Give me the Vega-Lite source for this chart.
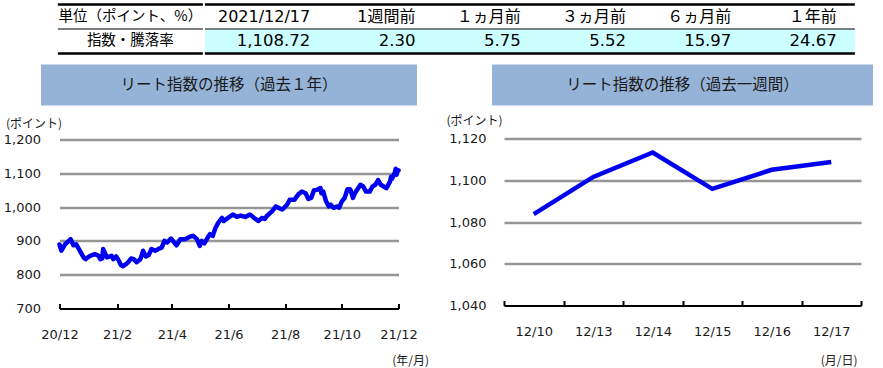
{
  "$schema": "https://vega.github.io/schema/vega-lite/v6.json",
  "padding": {"left": 3, "top": 2.5, "right": 0, "bottom": 0},
  "background": "white",
  "config": {
    "view": {"stroke": null},
    "axis": {"labelFont": "DejaVu Sans", "labelFontSize": 13, "labelColor": "#1a1a1a", "titleFont": "Noto Sans CJK JP", "titleFontSize": 12, "titleFontWeight": "normal", "titleColor": "#1a1a1a"}
  },
  "datasets": {
    "cells": [
      {"row": "header", "col": "c0", "text": "単位（ポイント、%）"},
      {"row": "header", "col": "c1", "text": "2021/12/17"},
      {"row": "header", "col": "c2", "text": "1週間前"},
      {"row": "header", "col": "c3", "text": "１ヵ月前"},
      {"row": "header", "col": "c4", "text": "３ヵ月前"},
      {"row": "header", "col": "c5", "text": "６ヵ月前"},
      {"row": "header", "col": "c6", "text": "１年前"},
      {"row": "data", "col": "c0", "text": "指数・騰落率"},
      {"row": "data", "col": "c1", "text": "1,108.72"},
      {"row": "data", "col": "c2", "text": "2.30"},
      {"row": "data", "col": "c3", "text": "5.75"},
      {"row": "data", "col": "c4", "text": "5.52"},
      {"row": "data", "col": "c5", "text": "15.97"},
      {"row": "data", "col": "c6", "text": "24.67"}
    ],
    "rows": [{"row": "header"}, {"row": "data"}],
    "year": [
      {"date": "2020-12-17", "value": 889.3},
      {"date": "2020-12-19", "value": 871},
      {"date": "2020-12-23", "value": 890},
      {"date": "2020-12-25", "value": 895},
      {"date": "2020-12-29", "value": 905},
      {"date": "2021-01-01", "value": 887},
      {"date": "2021-01-04", "value": 890},
      {"date": "2021-01-12", "value": 851},
      {"date": "2021-01-14", "value": 846},
      {"date": "2021-01-19", "value": 856},
      {"date": "2021-01-24", "value": 861},
      {"date": "2021-01-28", "value": 856},
      {"date": "2021-01-30", "value": 846},
      {"date": "2021-02-01", "value": 848},
      {"date": "2021-02-02", "value": 876},
      {"date": "2021-02-06", "value": 851},
      {"date": "2021-02-11", "value": 856},
      {"date": "2021-02-13", "value": 846},
      {"date": "2021-02-16", "value": 854},
      {"date": "2021-02-19", "value": 841},
      {"date": "2021-02-21", "value": 829},
      {"date": "2021-02-23", "value": 825},
      {"date": "2021-02-27", "value": 832},
      {"date": "2021-03-01", "value": 837},
      {"date": "2021-03-04", "value": 848},
      {"date": "2021-03-07", "value": 846},
      {"date": "2021-03-10", "value": 837},
      {"date": "2021-03-14", "value": 846},
      {"date": "2021-03-16", "value": 861},
      {"date": "2021-03-17", "value": 871},
      {"date": "2021-03-20", "value": 854},
      {"date": "2021-03-23", "value": 858},
      {"date": "2021-03-26", "value": 876},
      {"date": "2021-03-30", "value": 871},
      {"date": "2021-04-04", "value": 878},
      {"date": "2021-04-06", "value": 880},
      {"date": "2021-04-09", "value": 900},
      {"date": "2021-04-12", "value": 895},
      {"date": "2021-04-16", "value": 907},
      {"date": "2021-04-19", "value": 897},
      {"date": "2021-04-22", "value": 887},
      {"date": "2021-04-26", "value": 905},
      {"date": "2021-05-01", "value": 905},
      {"date": "2021-05-07", "value": 913},
      {"date": "2021-05-10", "value": 915},
      {"date": "2021-05-14", "value": 905},
      {"date": "2021-05-17", "value": 885},
      {"date": "2021-05-19", "value": 900},
      {"date": "2021-05-22", "value": 893},
      {"date": "2021-05-25", "value": 907},
      {"date": "2021-05-28", "value": 920},
      {"date": "2021-05-31", "value": 915},
      {"date": "2021-06-03", "value": 939},
      {"date": "2021-06-06", "value": 954},
      {"date": "2021-06-10", "value": 968},
      {"date": "2021-06-12", "value": 959},
      {"date": "2021-06-15", "value": 965},
      {"date": "2021-06-19", "value": 973},
      {"date": "2021-06-22", "value": 978},
      {"date": "2021-06-26", "value": 971},
      {"date": "2021-06-30", "value": 975},
      {"date": "2021-07-05", "value": 971},
      {"date": "2021-07-10", "value": 978},
      {"date": "2021-07-16", "value": 965},
      {"date": "2021-07-19", "value": 959},
      {"date": "2021-07-23", "value": 968},
      {"date": "2021-07-26", "value": 965},
      {"date": "2021-07-28", "value": 973},
      {"date": "2021-08-03", "value": 988},
      {"date": "2021-08-07", "value": 1002},
      {"date": "2021-08-12", "value": 995},
      {"date": "2021-08-14", "value": 993},
      {"date": "2021-08-19", "value": 1007},
      {"date": "2021-08-22", "value": 1022},
      {"date": "2021-08-27", "value": 1022},
      {"date": "2021-08-31", "value": 1037},
      {"date": "2021-09-04", "value": 1046},
      {"date": "2021-09-08", "value": 1041},
      {"date": "2021-09-11", "value": 1024},
      {"date": "2021-09-14", "value": 1027},
      {"date": "2021-09-17", "value": 1050},
      {"date": "2021-09-20", "value": 1051},
      {"date": "2021-09-24", "value": 1056},
      {"date": "2021-09-25", "value": 1041},
      {"date": "2021-09-27", "value": 1046},
      {"date": "2021-09-30", "value": 1017},
      {"date": "2021-10-03", "value": 1002},
      {"date": "2021-10-05", "value": 1007},
      {"date": "2021-10-08", "value": 998},
      {"date": "2021-10-12", "value": 1002},
      {"date": "2021-10-14", "value": 998},
      {"date": "2021-10-17", "value": 1017},
      {"date": "2021-10-20", "value": 1027},
      {"date": "2021-10-23", "value": 1053},
      {"date": "2021-10-26", "value": 1053},
      {"date": "2021-10-29", "value": 1027},
      {"date": "2021-10-31", "value": 1041},
      {"date": "2021-11-06", "value": 1066},
      {"date": "2021-11-09", "value": 1061},
      {"date": "2021-11-12", "value": 1046},
      {"date": "2021-11-16", "value": 1046},
      {"date": "2021-11-19", "value": 1061},
      {"date": "2021-11-22", "value": 1066},
      {"date": "2021-11-25", "value": 1080},
      {"date": "2021-11-28", "value": 1066},
      {"date": "2021-12-01", "value": 1061},
      {"date": "2021-12-04", "value": 1056},
      {"date": "2021-12-08", "value": 1076},
      {"date": "2021-12-09", "value": 1090},
      {"date": "2021-12-10", "value": 1083.8},
      {"date": "2021-12-13", "value": 1101.6},
      {"date": "2021-12-14", "value": 1113.3},
      {"date": "2021-12-15", "value": 1095.9},
      {"date": "2021-12-16", "value": 1105.0},
      {"date": "2021-12-17", "value": 1108.72}
    ],
    "week": [
      {"day": "12/10", "value": 1083.8},
      {"day": "12/13", "value": 1101.6},
      {"day": "12/14", "value": 1113.3},
      {"day": "12/15", "value": 1095.9},
      {"day": "12/16", "value": 1105.0},
      {"day": "12/17", "value": 1108.72}
    ]
  },
  "center": true,
  "spacing": 9,
  "vconcat": [
    {
      "spacing": -6,
      "hconcat": [
        {
          "width": 145,
          "height": 49,
          "layer": [
            {
              "data": {"name": "cells"},
              "transform": [{"filter": "datum.col === 'c0'"}],
              "mark": {"type": "text", "font": "Noto Sans CJK JP", "fontSize": 14.5, "color": "#000", "align": "center", "baseline": "middle"},
              "encoding": {
                "y": {"field": "row", "type": "nominal", "scale": {"domain": ["header", "data"], "paddingInner": 0, "paddingOuter": 0}, "axis": null},
                "text": {"field": "text"}
              }
            },
            {
              "data": {"name": "rows"},
              "transform": [{"filter": "datum.row === 'header'"}],
              "mark": {"type": "rule", "color": "#000", "strokeWidth": 2.5},
              "encoding": {
                "y": {"field": "row", "type": "nominal", "bandPosition": 0, "axis": null}
              }
            },
            {
              "data": {"name": "rows"},
              "transform": [{"filter": "datum.row === 'data'"}],
              "mark": {"type": "rule", "color": "#000", "strokeWidth": 1.2},
              "encoding": {
                "y": {"field": "row", "type": "nominal", "bandPosition": 0, "axis": null}
              }
            },
            {
              "data": {"name": "rows"},
              "transform": [{"filter": "datum.row === 'data'"}],
              "mark": {"type": "rule", "color": "#000", "strokeWidth": 2.5},
              "encoding": {
                "y": {"field": "row", "type": "nominal", "bandPosition": 1, "axis": null}
              }
            }
          ]
        },
        {
          "width": 650,
          "height": 49,
          "layer": [
            {
              "data": {"name": "rows"},
              "transform": [{"filter": "datum.row === 'data'"}],
              "mark": {"type": "rect", "color": "#CCFFFF"},
              "encoding": {
                "y": {"field": "row", "type": "nominal", "scale": {"domain": ["header", "data"], "paddingInner": 0, "paddingOuter": 0}, "axis": null}
              }
            },
            {
              "data": {"name": "cells"},
              "transform": [{"filter": "datum.row === 'header' && datum.col !== 'c0'"}],
              "mark": {"type": "text", "font": "DejaVu Sans, Noto Sans CJK JP", "fontSize": 16, "color": "#000", "align": "right", "baseline": "middle"},
              "encoding": {
                "x": {"field": "col", "type": "nominal", "bandPosition": 1, "scale": {"type": "band", "paddingInner": 0, "paddingOuter": 0.0864, "align": 0}, "axis": null},
                "y": {"field": "row", "type": "nominal", "axis": null},
                "text": {"field": "text"}
              }
            },
            {
              "data": {"name": "cells"},
              "transform": [{"filter": "datum.row === 'data' && datum.col !== 'c0'"}],
              "mark": {"type": "text", "font": "DejaVu Sans", "fontSize": 16.5, "color": "#000", "align": "right", "baseline": "middle"},
              "encoding": {
                "x": {"field": "col", "type": "nominal", "bandPosition": 1, "axis": null},
                "y": {"field": "row", "type": "nominal", "axis": null},
                "text": {"field": "text"}
              }
            },
            {
              "data": {"name": "rows"},
              "transform": [{"filter": "datum.row === 'header'"}],
              "mark": {"type": "rule", "color": "#000", "strokeWidth": 2.5},
              "encoding": {
                "y": {"field": "row", "type": "nominal", "bandPosition": 0, "axis": null}
              }
            },
            {
              "data": {"name": "rows"},
              "transform": [{"filter": "datum.row === 'data'"}],
              "mark": {"type": "rule", "color": "#000", "strokeWidth": 1.2},
              "encoding": {
                "y": {"field": "row", "type": "nominal", "bandPosition": 0, "axis": null}
              }
            },
            {
              "data": {"name": "rows"},
              "transform": [{"filter": "datum.row === 'data'"}],
              "mark": {"type": "rule", "color": "#000", "strokeWidth": 2.5},
              "encoding": {
                "y": {"field": "row", "type": "nominal", "bandPosition": 1, "axis": null}
              }
            }
          ]
        }
      ]
    },
    {
      "spacing": 16,
      "hconcat": [
        {
          "vconcat": [
            {
              "width": 376,
              "height": 41,
              "view": {"fill": "#95B3D7", "stroke": null},
              "data": {"values": [{"t": "リート指数の推移（過去１年）"}]},
              "mark": {"type": "text", "font": "Noto Sans CJK JP", "fontSize": 15.5, "color": "#1a1a1a", "baseline": "middle", "align": "center"},
              "encoding": {"text": {"field": "t"}}
            },
            {
              "width": 339,
              "height": 169,
              "data": {"name": "year"},
              "mark": {"type": "line", "color": "#0000F0", "strokeWidth": 4.5, "strokeJoin": "round", "strokeCap": "round"},
              "encoding": {
                "x": {
                  "field": "date", "type": "temporal",
                  "scale": {"type": "utc", "domain": [{"year": 2020, "month": 12, "date": 17, "utc": true}, {"year": 2021, "month": 12, "date": 17, "utc": true}]},
                  "axis": {
                    "title": "(年/月)",
                    "values": [
                      {"year": 2020, "month": 12, "date": 17, "utc": true},
                      {"year": 2021, "month": 2, "date": 17, "utc": true},
                      {"year": 2021, "month": 4, "date": 17, "utc": true},
                      {"year": 2021, "month": 6, "date": 17, "utc": true},
                      {"year": 2021, "month": 8, "date": 17, "utc": true},
                      {"year": 2021, "month": 10, "date": 17, "utc": true},
                      {"year": 2021, "month": 12, "date": 17, "utc": true}
                    ],
                    "labelExpr": "utcFormat(datum.value, '%y/%-m')",
                    "grid": false, "domainColor": "#000", "domainWidth": 2,
                    "ticks": true, "tickColor": "#000", "tickWidth": 2, "tickSize": -5,
                    "labelPadding": 25, "labelFlush": false, "labelOverlap": false,
                    "titleX": 369, "titleY": 52, "titleAlign": "right", "titleBaseline": "middle", "titleAnchor": null
                  }
                },
                "y": {
                  "field": "value", "type": "quantitative",
                  "scale": {"domain": [700, 1200], "nice": false, "zero": false},
                  "axis": {
                    "title": "(ポイント)", "values": [700, 800, 900, 1000, 1100, 1200], "format": ",d",
                    "ticks": false, "domain": false, "grid": true,
                    "gridColor": {"condition": {"test": "datum.value === 700", "value": "transparent"}, "value": "#969696"},
                    "gridWidth": 2.5, "labelPadding": 19,
                    "titleAngle": 0, "titleX": -26, "titleY": -16, "titleAlign": "center", "titleBaseline": "middle", "titleAnchor": null
                  }
                }
              }
            }
          ],
          "spacing": 34,
          "center": true,
          "bounds": "flush"
        },
        {
          "vconcat": [
            {
              "width": 381,
              "height": 41,
              "view": {"fill": "#95B3D7", "stroke": null},
              "data": {"values": [{"t": "リート指数の推移（過去一週間）"}]},
              "mark": {"type": "text", "font": "Noto Sans CJK JP", "fontSize": 15.5, "color": "#1a1a1a", "baseline": "middle", "align": "center"},
              "encoding": {"text": {"field": "t"}}
            },
            {
              "width": 357,
              "height": 167,
              "data": {"name": "week"},
              "mark": {"type": "line", "color": "#0000F0", "strokeWidth": 4.5, "strokeJoin": "miter", "strokeCap": "butt"},
              "encoding": {
                "x": {
                  "field": "day", "type": "ordinal", "sort": null,
                  "scale": {"type": "band", "paddingInner": 0, "paddingOuter": 0},
                  "axis": {
                    "title": "(月/日)", "labelAngle": 0, "tickBand": "extent",
                    "grid": false, "domainColor": "#000", "domainWidth": 2,
                    "ticks": true, "tickColor": "#000", "tickWidth": 2, "tickSize": -5,
                    "labelPadding": 25,
                    "titleX": 353, "titleY": 55, "titleAlign": "right", "titleBaseline": "middle", "titleAnchor": null
                  }
                },
                "y": {
                  "field": "value", "type": "quantitative",
                  "scale": {"domain": [1040, 1120], "nice": false, "zero": false},
                  "axis": {
                    "title": "(ポイント)", "values": [1040, 1060, 1080, 1100, 1120], "format": ",d",
                    "ticks": false, "domain": false, "grid": true,
                    "gridColor": {"condition": {"test": "datum.value === 1040", "value": "transparent"}, "value": "#969696"},
                    "gridWidth": 2.5, "labelPadding": 18,
                    "titleAngle": 0, "titleX": -30, "titleY": -18, "titleAlign": "center", "titleBaseline": "middle", "titleAnchor": null
                  }
                }
              }
            }
          ],
          "spacing": 33,
          "center": true,
          "bounds": "flush"
        }
      ]
    }
  ]
}
